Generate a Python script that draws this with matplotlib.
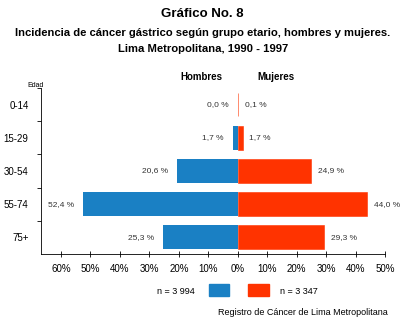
import matplotlib.pyplot as plt

plt.rcParams['font.family'] = ['Liberation Sans', 'DejaVu Sans']

edades = ['0-14', '15-29', '30-54', '55-74', '75+']
hombres = [0.0, 1.7, 20.6, 52.4, 25.3]
mujeres = [0.1, 1.7, 24.9, 44.0, 29.3]
etiq_h = ['0,0 %', '1,7 %', '20,6 %', '52,4 %', '25,3 %']
etiq_m = ['0,1 %', '1,7 %', '24,9 %', '44,0 %', '29,3 %']
xticks = [-60, -50, -40, -30, -20, -10, 0, 10, 20, 30, 40, 50]
xlabels = ['60%', '50%', '40%', '30%', '20%', '10%', '0%', '10%', '20%', '30%', '40%', '50%']

azul = '#1a80c4'
rojo = '#ff3300'

fig = plt.figure(figsize=(4, 3.25), dpi=100)
ax = fig.add_axes([0.1025, 0.2185, 0.86, 0.511])

pos = range(len(edades))
ax.barh(pos, [-h for h in hombres], height=0.72, color=azul)
ax.barh(pos, mujeres, height=0.72, color=rojo, edgecolor=rojo, linewidth=0.4)

for i in pos:
    ax.text(-hombres[i] - 3, i, etiq_h[i], ha='right', va='center', fontsize=6, color='#333333')
    ax.text(mujeres[i] + 2.2, i, etiq_m[i], ha='left', va='center', fontsize=6, color='#333333')

ax.set_xlim(-66.8, 50)
ax.set_ylim(4.5, -0.45)
ax.set_xticks(xticks)
ax.set_xticklabels(xlabels, fontsize=7)
ax.tick_params(axis='x', direction='inout', length=4, width=0.6, pad=5)

ax.set_yticks([-0.5, 0.5, 1.5, 2.5, 3.5])
ax.set_yticklabels([])
ax.set_yticks(list(pos), minor=True)
ax.set_yticklabels(edades, minor=True, fontsize=7)
ax.tick_params(axis='y', which='major', direction='out', length=3, width=0.6)
ax.tick_params(axis='y', which='minor', length=0, pad=9)

for s in ['top', 'right']:
    ax.spines[s].set_visible(False)
ax.spines['left'].set_linewidth(0.6)
ax.spines['bottom'].set_linewidth(0.6)

fig.text(0.09, 0.738, 'Edad', fontsize=5, ha='center', va='center')
fig.text(0.503, 0.763, 'Hombres', fontsize=7, fontweight='bold', ha='center', va='center')
fig.text(0.69, 0.763, 'Mujeres', fontsize=7, fontweight='bold', ha='center', va='center')

fig.text(0.505, 0.957, 'Gráfico No. 8', fontsize=9.5, fontweight='bold', ha='center', va='center')
fig.text(0.507, 0.898, 'Incidencia de cáncer gástrico según grupo etario, hombres y mujeres.',
         fontsize=8.1, fontweight='bold', ha='center', va='center')
fig.text(0.507, 0.849, 'Lima Metropolitana, 1990 - 1997', fontsize=8.1, fontweight='bold',
         ha='center', va='center')

# leyenda manual
fig.text(0.487, 0.102, 'n = 3 994', fontsize=6.5, ha='right', va='center')
fig.patches.append(plt.Rectangle((0.523, 0.089), 0.05, 0.038, transform=fig.transFigure, color=azul))
fig.patches.append(plt.Rectangle((0.62, 0.089), 0.052, 0.038, transform=fig.transFigure, color=rojo))
fig.text(0.70, 0.102, 'n = 3 347', fontsize=6.5, ha='left', va='center')
fig.text(0.97, 0.037, 'Registro de Cáncer de Lima Metropolitana', fontsize=6.5, ha='right', va='center')

fig.savefig('out.png', dpi=100)
